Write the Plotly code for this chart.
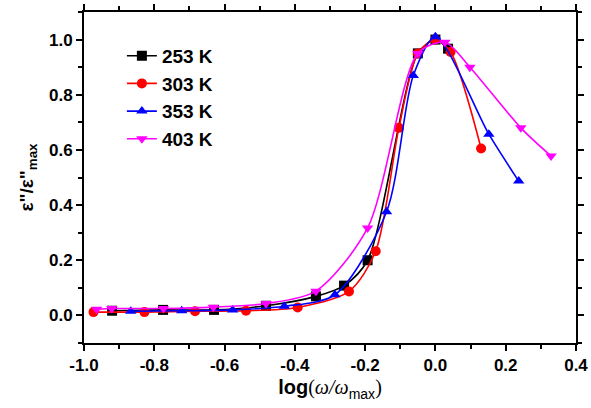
import plotly.graph_objects as go

# 253 K
x253 = [-0.92, -0.775, -0.63, -0.482, -0.34, -0.26, -0.193, -0.05, 0.0, 0.036]
y253 = [0.017, 0.02, 0.02, 0.035, 0.069, 0.108, 0.20, 0.95, 1.0, 0.967]
# 303 K
x303 = [-0.973, -0.828, -0.684, -0.539, -0.392, -0.246, -0.17, -0.104, -0.05, 0.0, 0.043, 0.13]
y303 = [0.012, 0.012, 0.015, 0.017, 0.029, 0.087, 0.233, 0.68, 0.95, 1.0, 0.955, 0.605]
# 353 K
x353 = [-0.867, -0.722, -0.577, -0.43, -0.286, -0.139, -0.063, 0.0, 0.152, 0.237]
y353 = [0.015, 0.017, 0.02, 0.033, 0.075, 0.376, 0.87, 1.01, 0.657, 0.487]
# 403 K
x403 = [-0.964, -0.921, -0.774, -0.632, -0.482, -0.34, -0.193, -0.05, 0.027, 0.098, 0.243, 0.329]
y403 = [0.022, 0.025, 0.025, 0.03, 0.043, 0.088, 0.317, 0.95, 0.99, 0.90, 0.68, 0.578]

# tick labels
x_tick_vals = [-1.0, -0.8, -0.6, -0.4, -0.2, 0.0, 0.2, 0.4]
x_tick_text = ["-1.0", "-0.8", "-0.6", "-0.4", "-0.2", "0.0", "0.2", "0.4"]
y_tick_vals = [0.0, 0.2, 0.4, 0.6, 0.8, 1.0]
y_tick_text = ["0.0", "0.2", "0.4", "0.6", "0.8", "1.0"]

series = [
    ("253 K", x253, y253, "black", "square"),
    ("303 K", x303, y303, "red", "circle"),
    ("353 K", x353, y353, "blue", "triangle-up"),
    ("403 K", x403, y403, "magenta", "triangle-down"),
]

fig = go.Figure()
for name, xs, ys, col, sym in series:
    fig.add_trace(go.Scatter(
        x=xs, y=ys, name=name, mode="lines+markers",
        line=dict(color=col, width=1.6, shape="spline", smoothing=0.8),
        marker=dict(color=col, symbol=sym, size=10),
    ))

axis_common = dict(
    showline=True, linecolor="black", linewidth=2, mirror="ticks",
    ticks="outside", ticklen=6, tickwidth=1.5, tickcolor="black",
    showgrid=False, zeroline=False, automargin=False,
    tickfont=dict(family="Liberation Sans, Arial", size=17, color="black", weight="bold"),
)

fig.update_xaxes(
    range=[-1.0, 0.4], tickmode="array", tickvals=x_tick_vals, ticktext=x_tick_text,
    minor=dict(dtick=0.1, tick0=0, ticks="outside", ticklen=4, tickcolor="black", tickwidth=1.5),
    title=dict(
        text='<b>log</b><span style="font-family:Liberation Serif">(<i>ω/ω</i></span><sub>max</sub><span style="font-family:Liberation Serif">)</span>',
        font=dict(family="Liberation Sans, Arial", size=20, color="black"),
        standoff=6,
    ),
    ticklabeloverflow="allow",
    **axis_common,
)
fig.update_yaxes(
    range=[-0.1, 1.1], tickmode="array", tickvals=y_tick_vals, ticktext=y_tick_text,
    minor=dict(dtick=0.1, tick0=0, ticks="outside", ticklen=4, tickcolor="black", tickwidth=1.5),
    title=dict(
        text='<b>ε"/ε"<sub>max</sub></b>',
        font=dict(family="Liberation Sans, Arial", size=19, color="black"),
        standoff=10,
    ),
    **axis_common,
)

fig.update_layout(
    width=591, height=408,
    margin=dict(l=84, r=15, t=12, b=65, autoexpand=False),
    paper_bgcolor="white", plot_bgcolor="white",
    showlegend=True,
    legend=dict(
        x=0.077, y=0.925, xanchor="left", yanchor="top",
        bgcolor="rgba(0,0,0,0)",
        font=dict(family="Liberation Sans, Arial", size=19, color="black", weight="bold"),
        itemwidth=30, tracegroupgap=0,
    ),
)

fig.write_html(
    "out.html",
    config={"displayModeBar": False},
    post_script="document.body.style.margin='0';document.body.style.padding='0';document.body.style.overflow='hidden';",
)
